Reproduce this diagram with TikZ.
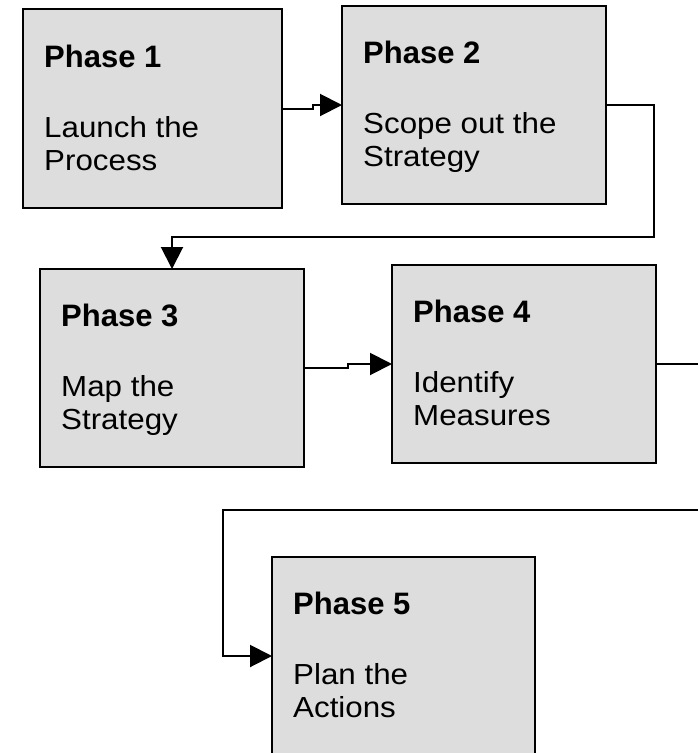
\documentclass[tikz,border=0pt]{standalone}
\usepackage{fontspec}
\setmainfont{Liberation Sans}
\newfontfamily\bodyfont[FakeStretch=1.08]{Liberation Sans}
\usetikzlibrary{arrows.meta}
\definecolor{boxgray}{RGB}{221,221,221}
\begin{document}
\begin{tikzpicture}[x=1pt,y=-1pt,
  phasebox/.style={draw=black, line width=2.2pt, fill=boxgray, inner sep=0pt, outer sep=0pt,
    anchor=north west, minimum width=264pt, minimum height=199pt},
  titletext/.style={anchor=base west, inner sep=0pt, font=\fontsize{31}{31}\selectfont\bfseries},
  bodytext/.style={anchor=base west, inner sep=0pt, align=left, font=\fontsize{29}{33}\bodyfont},
  link/.style={draw=black, line width=2pt, -{Triangle[length=22pt,width=22pt]}}]
\useasboundingbox (0,0) rectangle (698,753);
\fill[white] (0,0) rectangle (698,753);
\clip (0,0) rectangle (698,753);

% boxes
\node[phasebox, minimum width=259pt, minimum height=199pt] (p1) at (23,9) {};
\node[phasebox, minimum width=264pt, minimum height=198pt] (p2) at (342,6) {};
\node[phasebox, minimum width=264pt, minimum height=198pt] (p3) at (40,269) {};
\node[phasebox, minimum width=264pt, minimum height=198pt] (p4) at (392,265) {};
\node[phasebox, minimum width=263pt, minimum height=198pt] (p5) at (272,557) {};

% texts (body anchor = baseline of the last line)
\node[titletext] (t1) at (44,67) {Phase 1};
\node[bodytext]  (b1) at (44,170) {Launch the\\Process};
\node[titletext] (t2) at (363,63.5) {Phase 2};
\node[bodytext]  (b2) at (363,166.5) {Scope out the\\Strategy};
\node[titletext] (t3) at (61,326.5) {Phase 3};
\node[bodytext]  (b3) at (61,429.5) {Map the\\Strategy};
\node[titletext] (t4) at (413,322.5) {Phase 4};
\node[bodytext]  (b4) at (413,425.5) {Identify\\Measures};
\node[titletext] (t5) at (293,614.5) {Phase 5};
\node[bodytext]  (b5) at (293,717.5) {Plan the\\Actions};

% connectors
\draw[link] (p1.east) -- (313,108.5) -- (313,105) -- (p2.west);
\draw[link] (p2.east) -- (654,105) -- (654,237) -- (172,237) -- (p3.north);
\draw[link] (p3.east) -- (348,368) -- (348,364) -- (p4.west);
\draw[link] (p4.east) -- (712,364) -- (712,510) -- (223,510) -- (223,656) -- (p5.west);
\end{tikzpicture}
\end{document}
